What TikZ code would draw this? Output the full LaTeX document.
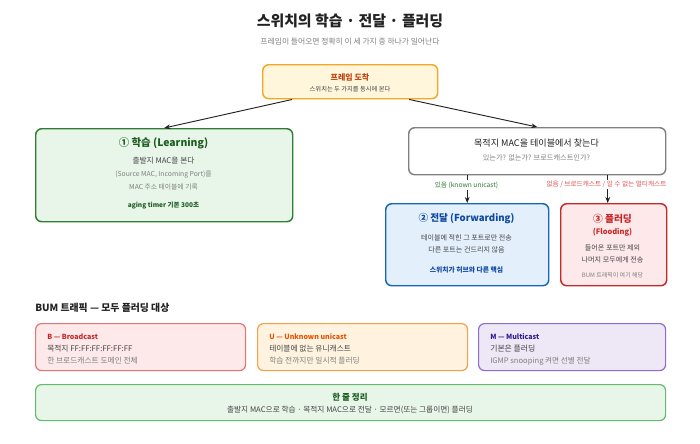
\documentclass[tikz,border=0pt]{standalone}
\usepackage{fontspec}
\setmainfont{Noto Sans CJK KR}
\usetikzlibrary{arrows.meta,calc}
\definecolor{ink}{HTML}{222222}
\definecolor{body}{HTML}{444444}
\definecolor{muted}{HTML}{808080}
\definecolor{topfill}{HTML}{FFF6DC}
\definecolor{topline}{HTML}{F5A623}
\definecolor{toptitle}{HTML}{C2410C}
\definecolor{lrnfill}{HTML}{E8F5E9}
\definecolor{lrnline}{HTML}{2E7D32}
\definecolor{lrntitle}{HTML}{1B5E20}
\definecolor{fwdfill}{HTML}{E3F0FC}
\definecolor{fwdline}{HTML}{1565C0}
\definecolor{fwdtitle}{HTML}{0D47A1}
\definecolor{fldfill}{HTML}{FDE8EA}
\definecolor{fldline}{HTML}{C62828}
\definecolor{redlabel}{HTML}{E05555}
\definecolor{bline}{HTML}{E57373}
\definecolor{ufill}{HTML}{FFF3E0}
\definecolor{uline}{HTML}{F4A04A}
\definecolor{utitle}{HTML}{E65100}
\definecolor{mfill}{HTML}{EDE7F6}
\definecolor{mline}{HTML}{8E6CCF}
\definecolor{mtitle}{HTML}{311B92}
\definecolor{sumline}{HTML}{66BB6A}
\tikzset{
  box/.style={draw, rounded corners=4.5pt, line width=1.1pt, inner sep=0pt, anchor=north west},
  thinbox/.style={box, line width=0.9pt},
  txt/.style={inner sep=0pt, anchor=center},
  conn/.style={draw=ink, line width=0.7pt, -{Stealth[length=4.5pt,width=3.6pt]}},
  lbl/.style={fill=white, inner sep=1pt, anchor=center},
}
\begin{document}
\begin{tikzpicture}[x=0.75pt,y=-0.75pt]
\useasboundingbox (0,0) rectangle (700,443);
\fill[white] (0,0) rectangle (700,443);

% title
\node[txt, text=ink, font=\fontsize{11.2}{13}\selectfont\bfseries] (title) at (350,21) {스위치의 학습 · 전달 · 플러딩};
\node[txt, text=muted, font=\fontsize{5.85}{7}\selectfont] (subtitle) at (350,42) {프레임이 들어오면 정확히 이 세 가지 중 하나가 일어난다};

% top box
\node[box, fill=topfill, draw=topline, minimum width=131.25pt, minimum height=25.5pt] (top) at (262,64) {};
\node[txt, text=toptitle, font=\fontsize{6}{7}\selectfont\bfseries] (toptitle) at (350,77) {프레임 도착};
\node[txt, text=body, font=\fontsize{4.7}{6}\selectfont] (topsub) at (350,89.5) {스위치는 두 가지를 동시에 본다};

% learning box
\node[box, fill=lrnfill, draw=lrnline, minimum width=192.75pt, minimum height=69.75pt] (learn) at (35,128) {};
\node[txt, text=lrntitle, font=\fontsize{7.8}{10}\selectfont\bfseries] (learnt) at (163.5,143) {① 학습 (Learning)};
\node[txt, text=body, font=\fontsize{5.8}{7}\selectfont] (learn1) at (163.5,161) {출발지 MAC을 본다};
\node[txt, text=muted, font=\fontsize{5.1}{6}\selectfont] (learn2) at (163.5,175) {(Source MAC, Incoming Port)를};
\node[txt, text=muted, font=\fontsize{5.1}{6}\selectfont] (learn3) at (163.5,186.5) {MAC 주소 테이블에 기록};
\node[txt, text=lrntitle, font=\fontsize{4.9}{6}\selectfont\bfseries] (learn4) at (163.5,206) {aging timer 기본 300초};

% find box
\node[box, fill=white, draw=muted, minimum width=192.75pt, minimum height=35.25pt] (find) at (408,127) {};
\node[txt, text=ink, font=\fontsize{6.8}{8}\selectfont] (findt) at (536.5,143) {목적지 MAC을 테이블에서 찾는다};
\node[txt, text=muted, font=\fontsize{5.4}{6.5}\selectfont] (finds) at (536.5,158) {있는가? 없는가? 브로드캐스트인가?};

% forwarding box
\node[box, fill=fwdfill, draw=fwdline, minimum width=122.25pt, minimum height=61.5pt] (fwd) at (385,203) {};
\node[txt, text=fwdtitle, font=\fontsize{7.2}{9}\selectfont\bfseries] (fwdt) at (466.5,219) {② 전달 (Forwarding)};
\node[txt, text=body, font=\fontsize{5.3}{6.5}\selectfont] (fwd1) at (466.5,238) {테이블에 적힌 그 포트로만 전송};
\node[txt, text=body, font=\fontsize{5.3}{6.5}\selectfont] (fwd2) at (466.5,250) {다른 포트는 건드리지 않음};
\node[txt, text=fwdtitle, font=\fontsize{5.1}{6}\selectfont\bfseries] (fwd3) at (466.5,270) {스위치가 허브와 다른 핵심};

% flooding box
\node[box, fill=fldfill, draw=fldline, minimum width=79.5pt, minimum height=61.5pt] (fld) at (560,203) {};
\node[txt, text=fldline, font=\fontsize{7.3}{9}\selectfont\bfseries] (fldt) at (612.5,219) {③ 플러딩};
\node[txt, text=fldline, font=\fontsize{5.6}{7}\selectfont\bfseries] (fldt2) at (612.5,232.5) {(Flooding)};
\node[txt, text=body, font=\fontsize{5.3}{6.5}\selectfont] (fld1) at (612.5,248) {들어온 포트만 제외};
\node[txt, text=body, font=\fontsize{5.3}{6.5}\selectfont] (fld2) at (612.5,259.5) {나머지 모두에게 전송};
\node[txt, text=muted, font=\fontsize{4.5}{5.5}\selectfont] (fld3) at (612.5,275) {BUM 트래픽이 여기 해당};

% connectors
\draw[conn] ($(top.south west)!0.171!(top.south east)$) -- (learn.north);
\draw[conn] ($(top.south west)!0.834!(top.south east)$) -- (find.north);
\coordinate (fldin) at ([xshift=-4.5pt]fld.north);
\draw[conn] (find.south -| fwd.north) -- (fwd.north);
\draw[conn] (find.south -| fldin) -- (fldin);
\node[lbl, text=lrnline, font=\fontsize{5}{6}\selectfont] (lblyes) at (466.5,185) {있음 (known unicast)};
\node[lbl, text=redlabel, font=\fontsize{5}{6}\selectfont] (lblno) at (606.5,184.5) {없음 / 브로드캐스트 / 알 수 없는 멀티캐스트};

% BUM section
\node[txt, anchor=west, text=ink, font=\fontsize{7.4}{9}\selectfont\bfseries] (bumhead) at (35,308) {BUM 트래픽 — 모두 플러딩 대상};

\node[thinbox, fill=fldfill, draw=bline, minimum width=157.5pt, minimum height=35.25pt] (bbox) at (35,323) {};
\node[txt, anchor=west, text=fldline, font=\fontsize{5.3}{6.5}\selectfont\bfseries] (bt) at (47,337) {B — Broadcast};
\node[txt, anchor=west, text=body, font=\fontsize{5.8}{7}\selectfont] (b1) at (47,349) {목적지 FF:FF:FF:FF:FF:FF};
\node[txt, anchor=west, text=muted, font=\fontsize{5.8}{7}\selectfont] (b2) at (47,361) {한 브로드캐스트 도메인 전체};

\node[thinbox, fill=ufill, draw=uline, minimum width=157.5pt, minimum height=35.25pt] (ubox) at (257,323) {};
\node[txt, anchor=west, text=utitle, font=\fontsize{5.3}{6.5}\selectfont\bfseries] (ut) at (269,337) {U — Unknown unicast};
\node[txt, anchor=west, text=body, font=\fontsize{5.8}{7}\selectfont] (u1) at (269,349) {테이블에 없는 유니캐스트};
\node[txt, anchor=west, text=muted, font=\fontsize{5.8}{7}\selectfont] (u2) at (269,361) {학습 전까지만 일시적 플러딩};

\node[thinbox, fill=mfill, draw=mline, minimum width=140.25pt, minimum height=35.25pt] (mbox) at (478,323) {};
\node[txt, anchor=west, text=mtitle, font=\fontsize{5.3}{6.5}\selectfont\bfseries] (mt) at (490,337) {M — Multicast};
\node[txt, anchor=west, text=body, font=\fontsize{5.9}{7}\selectfont] (m1) at (490,349) {기본은 플러딩};
\node[txt, anchor=west, text=muted, font=\fontsize{5.7}{7}\selectfont] (m2) at (490,361) {IGMP snooping 켜면 선별 전달};

% summary
\node[thinbox, fill=lrnfill, draw=sumline, minimum width=472.5pt, minimum height=27pt] (sum) at (35,384) {};
\node[txt, text=lrntitle, font=\fontsize{6.4}{8}\selectfont\bfseries] (sumt) at (350,397.5) {한 줄 정리};
\node[txt, text=body, font=\fontsize{5.75}{7}\selectfont] (sums) at (350,410) {출발지 MAC으로 학습 · 목적지 MAC으로 전달 · 모르면(또는 그룹이면) 플러딩};
\end{tikzpicture}
\end{document}
